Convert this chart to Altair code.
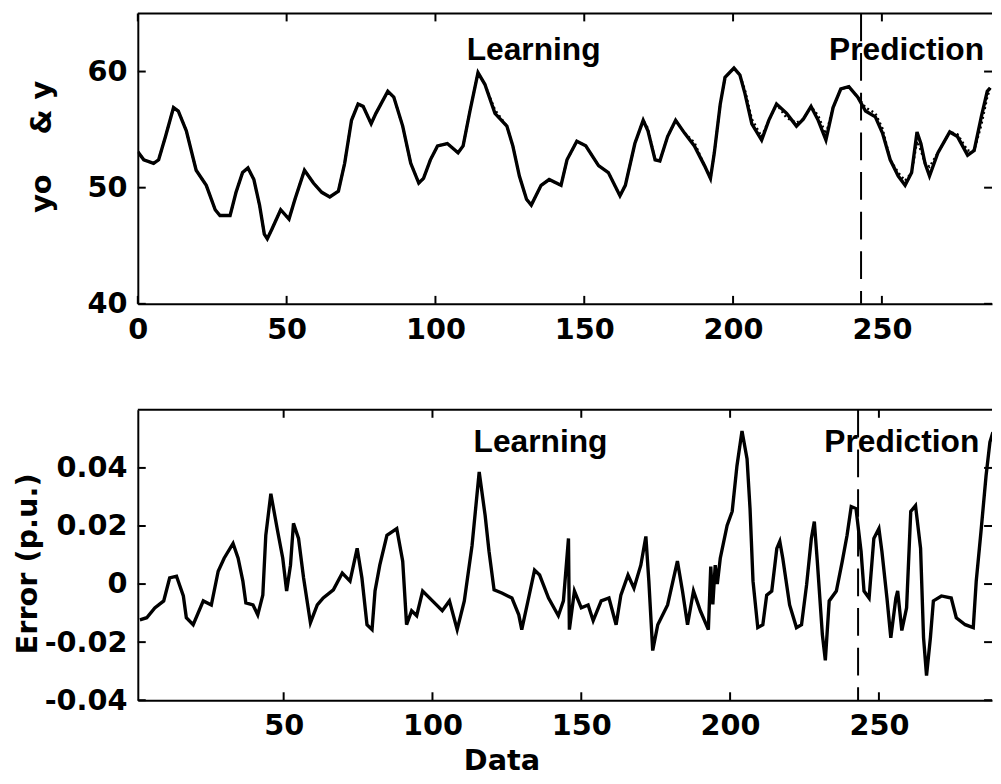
import altair as alt
import pandas as pd

FONT = "DejaVu Sans"
ANN_FONT = "Liberation Sans"

# ---------------- data ----------------
# upper panel: measured output yo (solid) and model output y (dotted)
top_x = [0, 2, 5.3, 7, 9.3, 12, 13.6, 16.3, 19.6, 23, 26, 27.6, 31, 33, 35.2, 37, 39, 40.9,
         42.5, 43.5, 45, 48, 50.8, 52.8, 56, 59, 61.8, 64.5, 67.4, 69.5, 71.8, 74, 75.7, 78.4,
         80, 84, 86, 89, 91.7, 94.4, 96, 98.3, 100.7, 104, 107.6, 109.3, 111.6, 114.3, 116.6,
         120, 124, 126, 128.2, 130.6, 132.2, 135.5, 138.2, 142.2, 144.2, 147.5, 150.5, 154.8,
         158.1, 162, 163.8, 167, 169.8, 171.4, 173.8, 175.4, 178, 180.7, 183.7, 187, 190.4,
         192.4, 193.7, 195.7, 197.3, 200.3, 202.3, 204, 206.3, 209.6, 212, 214.6, 218, 221.3,
         223.6, 226.2, 228.6, 231.2, 233.6, 236.2, 238.9, 241.9, 244.5, 247.8, 250.2, 252.8,
         255.5, 257.8, 260, 261.8, 263.1, 264.5, 266, 268.8, 272.8, 275.4, 278.8, 281, 283.4,
         285.4, 286.4]
top_yo = [53.1, 52.4, 52.1, 52.4, 54.4, 56.9, 56.6, 54.9, 51.5, 50.2, 48.1, 47.6, 47.6, 49.6,
          51.3, 51.7, 50.7, 48.5, 46.0, 45.6, 46.4, 48.1, 47.3, 49.0, 51.5, 50.4, 49.6, 49.2,
          49.7, 52.1, 55.8, 57.2, 57.0, 55.5, 56.4, 58.3, 57.8, 55.3, 52.1, 50.4, 50.8, 52.4,
          53.6, 53.8, 53.0, 53.6, 56.6, 59.9, 58.9, 56.4, 55.3, 53.6, 51.0, 49.0, 48.5, 50.2,
          50.7, 50.2, 52.4, 54.0, 53.6, 51.9, 51.3, 49.3, 50.2, 53.8, 55.8, 54.9, 52.4, 52.3,
          54.4, 55.8, 54.7, 53.6, 51.9, 50.8, 53.0, 57.2, 59.5, 60.3, 59.7, 58.1, 55.5, 54.1,
          55.8, 57.2, 56.4, 55.3, 55.9, 57.0, 55.8, 54.1, 56.9, 58.5, 58.7, 57.8, 56.6, 56.1,
          54.7, 52.4, 51.0, 50.2, 51.3, 54.8, 53.8, 52.1, 51.0, 53.0, 54.8, 54.4, 52.8, 53.2,
          56.1, 58.3, 58.6]
top_y = [53.1, 52.4, 52.1, 52.4, 54.4, 56.9, 56.6, 54.9, 51.5, 50.2, 48.1, 47.6, 47.6, 49.6,
         51.3, 51.7, 50.7, 48.5, 46.0, 45.6, 46.4, 48.1, 47.3, 49.0, 51.5, 50.4, 49.6, 49.2,
         49.7, 52.1, 55.8, 57.2, 57.0, 55.5, 56.4, 58.3, 57.8, 55.3, 52.1, 50.4, 50.8, 52.4,
         53.6, 53.8, 53.0, 53.6, 56.6, 59.9, 58.9, 56.7, 55.3, 53.6, 51.0, 49.0, 48.5, 50.2,
         50.7, 50.2, 52.4, 54.0, 53.6, 51.9, 51.3, 49.3, 50.2, 53.8, 55.8, 55.1, 52.4, 52.3,
         54.4, 55.8, 54.7, 53.9, 51.9, 50.8, 53.0, 57.2, 59.5, 60.3, 59.7, 58.4, 55.9, 54.4,
         55.8, 57.2, 56.0, 55.6, 55.9, 57.0, 56.2, 54.6, 56.9, 58.5, 58.7, 57.8, 56.9, 56.4,
         55.1, 52.4, 51.3, 50.6, 51.3, 54.0, 53.2, 52.1, 51.8, 53.0, 54.8, 54.6, 53.2, 53.2,
         55.4, 57.8, 58.6]

# lower panel: error (p.u.)
err_x = [1.7, 4, 6.7, 9.7, 11.7, 14, 16.3, 17.3, 19.6, 23, 25.7, 28, 30, 33, 34.7, 36.3, 37.3,
         39.7, 41.3, 43, 44, 45.7, 48, 49.7, 51, 52.3, 53.3, 55, 56.7, 59, 61.3, 63.3, 66.7,
         69.7, 72.3, 74.7, 76.3, 78, 79.7, 80.7, 82.3, 84.7, 88, 90, 91.3, 93, 94.7, 96.7, 100,
         103.3, 105.7, 108.3, 110.7, 113.3, 115.7, 117.7, 119, 120.7, 123.3, 126.7, 129, 130,
         132.3, 134.3, 136, 139, 142.3, 144, 145.7, 146, 147.7, 150, 152.3, 154, 156.7, 159.3,
         161.7, 163.3, 165.7, 167.7, 170, 171.7, 172.7, 174, 175.7, 179, 182.3, 184, 185.7,
         187.7, 190, 192.7, 193.5, 194.2, 195, 195.7, 196.7, 199, 200.7, 202.3, 204, 205.7,
         206.7, 207.7, 209.3, 211, 212.3, 214, 215.7, 216.7, 217.7, 220, 222.3, 224, 225.7,
         227.3, 228.3, 229.3, 231, 232, 233.3, 235.7, 237.7, 239.3, 240.7, 242.3, 244, 245,
         246.7, 248.3, 250, 251, 252.7, 254, 255.7, 256.3, 257.7, 259.3, 260.7, 262.3, 264,
         265, 266, 267.3, 268.3, 271, 274.3, 276, 279, 281.7, 282.7, 284.3, 286, 287.3, 288.3]
err_v = [-0.0123, -0.0116, -0.0082, -0.0058, 0.0021, 0.0027, -0.0041, -0.0116, -0.0140,
         -0.0058, -0.0072, 0.0044, 0.0089, 0.0140, 0.0089, 0.0010, -0.0065, -0.0072, -0.0106,
         -0.0038, 0.0168, 0.0311, 0.0181, 0.0089, -0.0024, 0.0065, 0.0209, 0.0157, 0.0021,
         -0.0133, -0.0072, -0.0048, -0.0020, 0.0038, 0.0010, 0.0123, 0.0021, -0.0140, -0.0157,
         -0.0024, 0.0065, 0.0168, 0.0191, 0.0079, -0.0140, -0.0092, -0.0109, -0.0024, -0.0058,
         -0.0092, -0.0058, -0.0157, -0.0058, 0.0133, 0.0386, 0.0236, 0.0113, -0.0020, -0.0031,
         -0.0048, -0.0106, -0.0157, -0.0048, 0.0048, 0.0031, -0.0048, -0.0109, -0.0058, 0.0157,
         -0.0157, -0.0024, -0.0082, -0.0072, -0.0126, -0.0058, -0.0048, -0.0140, -0.0038,
         0.0031, -0.0014, 0.0065, 0.0164, 0.0010, -0.0229, -0.0140, -0.0072, 0.0079, -0.0024,
         -0.0140, -0.0024, -0.0092, -0.0157, 0.0060, -0.0070, 0.0065, 0.0000, 0.0089, 0.0202,
         0.0250, 0.0407, 0.0527, 0.0431, 0.0260, 0.0010, -0.0150, -0.0140, -0.0038, -0.0024,
         0.0123, 0.0147, 0.0089, -0.0072, -0.0150, -0.0140, -0.0003, 0.0157, 0.0215, 0.0079,
         -0.0174, -0.0263, -0.0058, -0.0024, 0.0079, 0.0168, 0.0267, 0.0260, 0.0113, -0.0024,
         -0.0048, 0.0157, 0.0191, 0.0113, -0.0048, -0.0185, -0.0048, -0.0024, -0.0160, -0.0082,
         0.0250, 0.0270, 0.0123, -0.0185, -0.0315, -0.0185, -0.0058, -0.0041, -0.0048, -0.0116,
         -0.0140, -0.0150, 0.0010, 0.0181, 0.0373, 0.0489, 0.0523]

split_at = [243]                      # learning / prediction boundary
top_xticks = [0, 50, 100, 150, 200, 250]
top_yticks = [40, 50, 60]
bot_xticks = [50, 100, 150, 200, 250]
bot_yticks = [-0.04, -0.02, 0, 0.02, 0.04]
ann_text = ["Learning", "Prediction"]
top_ann_x = [133, 258.3]
top_ann_y = [61.0, 61.0]
bot_ann_x = [136.3, 257.7]
bot_ann_y = [0.0455, 0.0455]

assert len(top_x) == len(top_yo) == len(top_y)
assert len(err_x) == len(err_v)

W, H = 862, 293
TICK = 8

top_df = pd.DataFrame({"x": top_x, "yo": top_yo, "y": top_y})
err_df = pd.DataFrame({"x": err_x, "e": err_v})
one = pd.DataFrame({"a": [0]})


def make_panel(xenc, yenc, lines, split_df, ann_df, xticks, yticks):
    """xenc(field) / yenc(field) return encodings sharing the same scale + axis."""
    xt = pd.DataFrame({"t": xticks})
    yt = pd.DataFrame({"t": yticks})
    rule = dict(color="black", strokeWidth=2)
    layers = list(lines)
    layers.append(alt.Chart(split_df).mark_rule(
        color="black", strokeWidth=2, strokeDash=[28, 12]).encode(x=xenc("s")))
    layers.append(alt.Chart(ann_df).mark_text(
        font=ANN_FONT, fontSize=32, fontWeight="bold", color="black", align="center",
        baseline="alphabetic").encode(x=xenc("x"), y=yenc("y"), text="label:N"))
    layers += [
        alt.Chart(one).mark_rule(**rule).encode(
            x=alt.value(0), x2=alt.value(W), y=alt.value(0)),
        alt.Chart(xt).mark_rule(**rule).encode(
            x=xenc("t"), y=alt.value(H), y2=alt.value(H - TICK)),
        alt.Chart(xt).mark_rule(**rule).encode(
            x=xenc("t"), y=alt.value(0), y2=alt.value(TICK)),
        alt.Chart(yt).mark_rule(**rule).encode(
            y=yenc("t"), x=alt.value(0), x2=alt.value(TICK)),
        alt.Chart(yt).mark_rule(**rule).encode(
            y=yenc("t"), x=alt.value(W - TICK), x2=alt.value(W)),
    ]
    return alt.layer(*layers).properties(width=W, height=H)


# ---------------- upper panel ----------------
xs_top = alt.Scale(domain=[0, 287], nice=False, zero=False)
ys_top = alt.Scale(domain=[40, 65], nice=False, zero=False)
x_axis_top = alt.Axis(values=top_xticks, labelFlush=False, labelPadding=12, format="d")
y_axis_top = alt.Axis(values=top_yticks, labelPadding=11, titlePadding=31, titleY=134)
top_title = "yo\u00a0\u00a0\u00a0\u00a0& y"


def xt_enc(f):
    return alt.X(f"{f}:Q", scale=xs_top, axis=x_axis_top, title=None)


def yt_enc(f):
    return alt.Y(f"{f}:Q", scale=ys_top, axis=y_axis_top, title=top_title)


yo_line = alt.Chart(top_df).mark_line(color="black", strokeWidth=3.4, clip=True).encode(
    x=xt_enc("x"), y=yt_enc("yo"))
y_line = alt.Chart(top_df).mark_line(color="black", strokeWidth=2.4, strokeDash=[2, 3],
                                     clip=True).encode(x=xt_enc("x"), y=yt_enc("y"))

top = make_panel(xt_enc, yt_enc, [yo_line, y_line],
                 pd.DataFrame({"s": split_at}),
                 pd.DataFrame({"label": ann_text, "x": top_ann_x, "y": top_ann_y}),
                 top_xticks, top_yticks)

# ---------------- lower panel ----------------
xs_bot = alt.Scale(domain=[1, 288], nice=False, zero=False)
ys_bot = alt.Scale(domain=[-0.04, 0.06], nice=False, zero=False)
x_axis_bot = alt.Axis(values=bot_xticks, labelFlush=False, labelPadding=12, format="d",
                      titlePadding=6, titleX=367)
y_axis_bot = alt.Axis(values=bot_yticks, labelPadding=11, titlePadding=2, titleY=155,
                      labelExpr="datum.value == 0 ? '0' : (datum.value < 0 ? '-' + format(-datum.value, '.2f') : format(datum.value, '.2f'))")


def xb_enc(f):
    return alt.X(f"{f}:Q", scale=xs_bot, axis=x_axis_bot, title="Data")


def yb_enc(f):
    return alt.Y(f"{f}:Q", scale=ys_bot, axis=y_axis_bot, title="Error (p.u.)")


err_line = alt.Chart(err_df).mark_line(color="black", strokeWidth=3.4, clip=True).encode(
    x=xb_enc("x"), y=yb_enc("e"))

bottom = make_panel(xb_enc, yb_enc, [err_line],
                    pd.DataFrame({"s": split_at}),
                    pd.DataFrame({"label": ann_text, "x": bot_ann_x, "y": bot_ann_y}),
                    bot_xticks, bot_yticks)

chart = alt.vconcat(top, bottom, spacing=107, bounds="flush").properties(
    padding={"left": 5, "top": 1, "right": 0, "bottom": 0},
    background="white",
).configure_view(stroke=None).configure_axis(
    grid=False, ticks=False, domainColor="black", domainWidth=2,
    labelFont=FONT, labelFontSize=29, labelFontWeight="bold", labelColor="black",
    titleFont=FONT, titleFontSize=29, titleFontWeight="bold", titleColor="black",
)

chart.save("out.html", embed_options={"renderer": "svg", "actions": False})
